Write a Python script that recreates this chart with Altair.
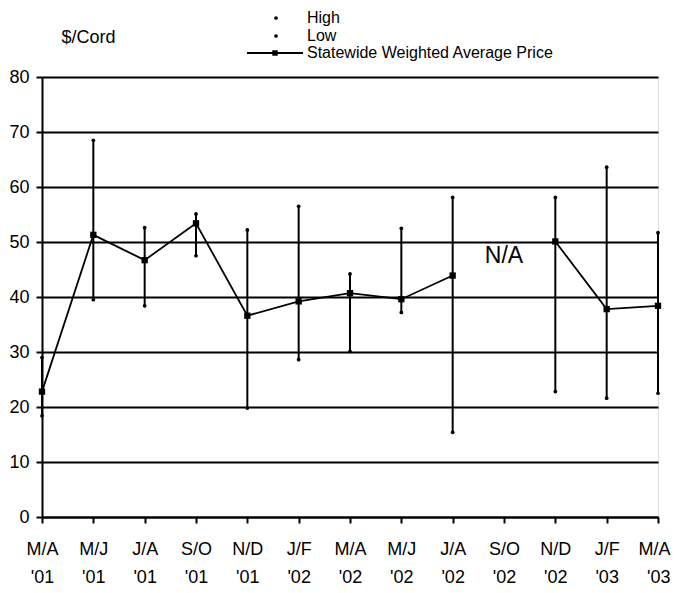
import altair as alt
import pandas as pd

categories = ["M/A|'01", "M/J|'01", "J/A|'01", "S/O|'01", "N/D|'01", "J/F|'02",
              "M/A|'02", "M/J|'02", "J/A|'02", "S/O|'02", "N/D|'02", "J/F|'03", "M/A|'03"]
high = [29.0, 68.5, 52.6, 55.1, 52.2, 56.5, 44.2, 52.5, 58.1, None, 58.1, 63.6, 51.7]
low = [18.4, 39.5, 38.4, 47.5, 19.8, 28.6, 30.1, 37.2, 15.4, None, 22.8, 21.6, 22.5]
avg = [22.8, 51.3, 46.7, 53.4, 36.6, 39.2, 40.7, 39.6, 43.9, None, 50.1, 37.8, 38.4]
na_label = "N/A"
na_category = "S/O|'02"
na_value = 47.5
y_title = "$/Cord"
legend_labels = ["High", "Low", "Statewide Weighted Average Price"]

# segment id so the average line breaks at the missing period
seg = []
s = 0
for v in avg:
    if v is None:
        s += 1
    seg.append(s)

df = pd.DataFrame({"cat": categories, "high": high, "low": low, "avg": avg, "seg": seg})
df_valid = df.dropna()

FONT = "Liberation Sans"
W, H = 616, 440
last_cat = categories[-1]
last_test = "datum.value == \"" + last_cat + "\""

xscale = alt.Scale(type="point", padding=0)
x_enc = alt.X("cat:N", sort=categories, scale=xscale,
              axis=alt.Axis(title=None, labelExpr="split(datum.value, '|')",
                            labelAngle=0, labelFont=FONT, labelFontSize=18,
                            labelColor="black", labelPadding=17, labelLineHeight=28,
                            labelAlign={"condition": {"test": last_test, "value": "right"},
                                        "value": "center"},
                            labelOffset={"condition": {"test": last_test, "value": 12},
                                         "value": 0},
                            tickSize=6, tickColor="black", tickWidth=2,
                            domainColor="black", domainWidth=2, grid=False))
yscale = alt.Scale(domain=[0, 80], nice=False)
y_axis = alt.Axis(title=y_title, titleAngle=0, titleAlign="left", titleBaseline="middle",
                  titleX=19, titleY=-40, titleFont=FONT, titleFontSize=18,
                  titleFontWeight="normal", titleColor="black",
                  values=list(range(0, 81, 10)), labelFont=FONT, labelFontSize=18,
                  labelColor="black", labelPadding=7, tickSize=6, tickColor="black",
                  tickWidth=2, domainColor="black", domainWidth=2,
                  grid=True, gridColor="black", gridWidth=2, gridOpacity=1)

base = alt.Chart(df_valid)

rules = base.mark_rule(color="black", strokeWidth=2).encode(
    x=x_enc, y=alt.Y("low:Q", scale=yscale, axis=y_axis), y2="high:Q")

high_pts = base.mark_point(shape="circle", filled=True, color="black", size=14, opacity=1).encode(
    x=alt.X("cat:N", sort=categories, scale=xscale), y=alt.Y("high:Q", scale=yscale))
low_pts = base.mark_point(shape="circle", filled=True, color="black", size=14, opacity=1).encode(
    x=alt.X("cat:N", sort=categories, scale=xscale), y=alt.Y("low:Q", scale=yscale))

line = base.mark_line(color="black", strokeWidth=1.8).encode(
    x=alt.X("cat:N", sort=categories, scale=xscale), y=alt.Y("avg:Q", scale=yscale),
    detail="seg:N")
squares = base.mark_point(shape="square", filled=True, color="black", size=40, opacity=1).encode(
    x=alt.X("cat:N", sort=categories, scale=xscale), y=alt.Y("avg:Q", scale=yscale))

na_df = pd.DataFrame({"cat": [na_category], "v": [na_value], "t": [na_label]})
na_text = alt.Chart(na_df).mark_text(font=FONT, fontSize=23, color="black",
                                     align="center", baseline="middle").encode(
    x=alt.X("cat:N", sort=categories, scale=xscale), y=alt.Y("v:Q", scale=yscale), text="t:N")

# manual legend
leg_rows = [-59, -41, -24]
leg_layers = []
for lab, yy in zip(legend_labels, leg_rows):
    leg_layers.append(alt.Chart(pd.DataFrame({"t": [lab]})).mark_text(
        font=FONT, fontSize=16, color="black", align="left", baseline="middle").encode(
        x=alt.value(265), y=alt.value(yy), text="t:N"))
for yy in leg_rows[:2]:
    leg_layers.append(alt.Chart(pd.DataFrame({"t": [0]})).mark_point(
        shape="circle", filled=True, color="black", size=14, opacity=1).encode(
        x=alt.value(234), y=alt.value(yy)))
leg_layers.append(alt.Chart(pd.DataFrame({"t": [0]})).mark_rule(
    color="black", strokeWidth=1.8).encode(
    x=alt.value(205), x2=alt.value(261), y=alt.value(leg_rows[2])))
leg_layers.append(alt.Chart(pd.DataFrame({"t": [0]})).mark_point(
    shape="square", filled=True, color="black", size=30, opacity=1).encode(
    x=alt.value(233), y=alt.value(leg_rows[2])))

chart = alt.layer(rules, line, high_pts, low_pts, squares, na_text, *leg_layers).properties(
    width=W, height=H,
    autosize=alt.AutoSizeParams(type="none"),
    padding={"left": 34, "top": 69, "right": 13, "bottom": 68},
).configure_view(stroke="black", strokeWidth=2).configure(background="white")

chart.save("out.html", embed_options={"renderer": "svg", "actions": False})
